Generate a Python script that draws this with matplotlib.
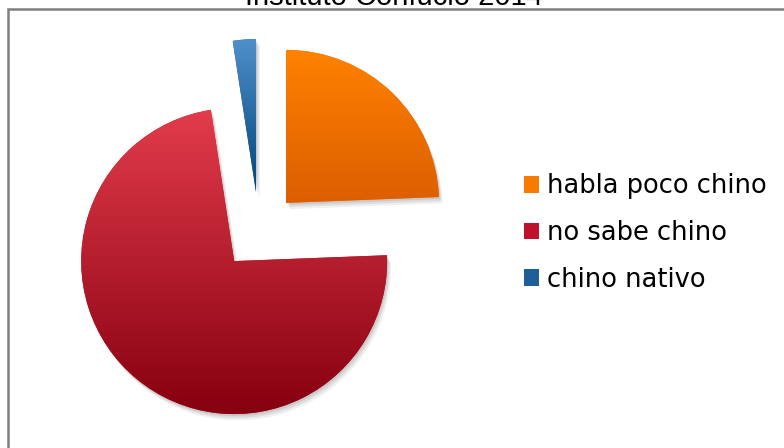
import numpy as np
import matplotlib
matplotlib.use("Agg")
import matplotlib.pyplot as plt
from matplotlib.patches import Rectangle, Shadow
from matplotlib.colors import LinearSegmentedColormap

# %% data
title = "Instituto Confucio 2014"
labels = ["habla poco chino", "no sabe chino", "chino nativo"]
values = [10, 30, 1]

# gradient colours per slice (top, bottom)
grad_top = ["#ff8200", "#e33c4c", "#4f8fcb"]
grad_bot = ["#dc5e00", "#86000f", "#00457a"]
legend_colors = ["#f97a00", "#c0102a", "#1f5f98"]

# %% figure, axes in pixel units (y up)
W, H = 784, 448
fig = plt.figure(figsize=(W / 100, H / 100), dpi=100)
ax = fig.add_axes([0, 0, 1, 1])
ax.set_xlim(0, W)
ax.set_ylim(0, H)
ax.axis("off")

radius = 153
center = (259, H - 231)
expl = 39

wedges, _ = ax.pie(values, startangle=90, counterclock=False,
                   radius=radius, center=center,
                   explode=[expl] * len(values),
                   colors=legend_colors, frame=True,
                   wedgeprops=dict(linewidth=0))

# soft shadows under the slices
for w in wedges:
    for k, a in zip([1.5, 3.0, 4.5], [0.12, 0.10, 0.08]):
        sh = Shadow(w, k * 0.6, -k, facecolor="#404040", edgecolor="none", alpha=a)
        sh.set_zorder(w.get_zorder() - 0.5)
        ax.add_patch(sh)

# vertical gradient fill, clipped to each slice
for w, c0, c1 in zip(wedges, grad_top, grad_bot):
    ext = w.get_path().get_extents()
    cmap = LinearSegmentedColormap.from_list("g", [c1, c0])
    grad = np.linspace(0, 1, 256).reshape(-1, 1)
    im = ax.imshow(grad, cmap=cmap, origin="lower", aspect="auto",
                   extent=(ext.x0, ext.x1, ext.y0, ext.y1),
                   zorder=w.get_zorder() + 0.1, interpolation="bilinear")
    im.set_clip_path(w)

ax.set_xlim(0, W)
ax.set_ylim(0, H)
ax.set_aspect("auto")

# chart border (right and bottom sides fall outside the image)
ax.add_patch(Rectangle((8, -20), W + 40, H - 9 + 20, fill=False,
                       edgecolor="#808080", linewidth=1.8, zorder=0.5))

# title, cut off by top edge as in the original
ax.text(394, H - 5, title, ha="center", va="baseline",
        fontsize=21, family="Liberation Sans", color="black")

leg = ax.legend(wedges, labels, loc="center left",
                bbox_to_anchor=(524 / W, 1 - 233 / H),
                bbox_transform=fig.transFigure,
                frameon=False, prop=dict(family="DejaVu Sans", size=18.5),
                handlelength=0.6, handleheight=0.6, handletextpad=0.3,
                labelspacing=0.8, borderaxespad=0, borderpad=0)

fig.savefig("out.png", dpi=100)
